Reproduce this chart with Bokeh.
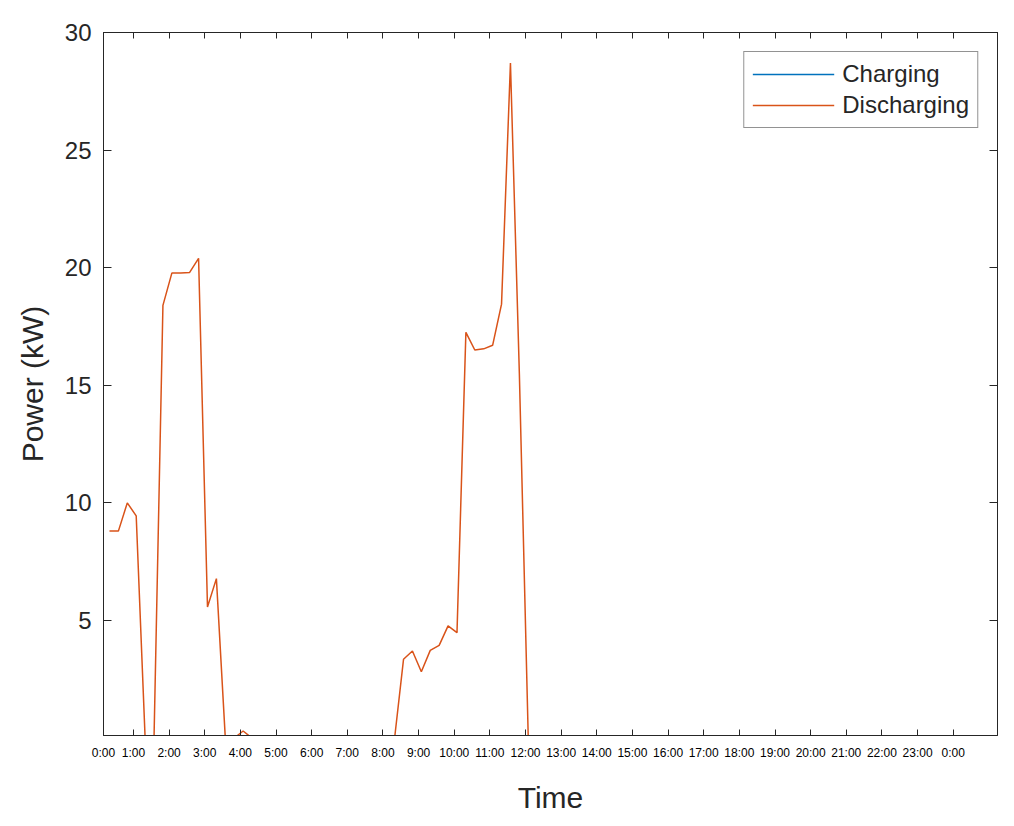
from bokeh.plotting import figure
from bokeh.models import (Range1d, LinearAxis, FixedTicker, Legend, LegendItem,
                          CustomJSTickFormatter, ColumnDataSource)
from bokeh.embed import file_html
from bokeh.resources import INLINE

# ---------------- data (15-minute samples, index 1..96) ----------------
sample_index = list(range(1, 97))

discharging = [8.8, 8.8, 10.0, 9.45, 0.0, 0.0, 18.4, 19.77, 19.77, 19.8,
               20.4, 5.57, 6.78, 0.0, 0.0, 0.3, 0.0, 0.0, 0.0, 0.0,
               0.0, 0.0, 0.0, 0.0, 0.0, 0.0, 0.0, 0.0, 0.0, 0.0,
               0.0, 0.0, 0.0, 3.35, 3.7, 2.82, 3.73, 3.94, 4.77, 4.48,
               17.25, 16.5, 16.55, 16.7, 18.45, 28.7, 15.5, 0.0] + [0.0] * 48

charging = [0.0] * 96

hour_labels = ["0:00", "1:00", "2:00", "3:00", "4:00", "5:00", "6:00", "7:00",
               "8:00", "9:00", "10:00", "11:00", "12:00", "13:00", "14:00",
               "15:00", "16:00", "17:00", "18:00", "19:00", "20:00", "21:00",
               "22:00", "23:00", "0:00"]

y_ticks = [5, 10, 15, 20, 25, 30]

# ---------------- geometry / styles ----------------
X_START, X_END = 0.33, 100.66
TICK_OFFSET = -0.31          # hour h sits at index 4h + offset
x_tick_pos = [X_START + 0.001] + [4 * h + TICK_OFFSET for h in range(1, 25)]

AX = "#262626"
FONT = "Liberation Sans"
BLUE = "#0072BD"
ORANGE = "#D95319"

p = figure(width=1008, height=818, output_backend="svg", toolbar_location=None,
           x_range=Range1d(X_START, X_END), y_range=Range1d(0.11, 30),
           min_border_left=103, min_border_right=11, min_border_top=32,
           min_border_bottom=83, x_axis_label="Time", y_axis_label="Power (kW)")
p.grid.visible = False
p.outline_line_color = AX
p.outline_line_width = 1
p.background_fill_color = "white"
p.border_fill_color = "white"

src = ColumnDataSource(dict(x=sample_index, c=charging, d=discharging))
r1 = p.line("x", "c", source=src, line_color=BLUE, line_width=1.5)
r2 = p.line("x", "d", source=src, line_color=ORANGE, line_width=1.5)

fmt_code = """
let best = 0;
for (let i = 0; i < pos.length; i++) {
  if (Math.abs(pos[i] - tick) < Math.abs(pos[best] - tick)) best = i;
}
return labels[best];
"""
xfmt = CustomJSTickFormatter(args=dict(pos=x_tick_pos, labels=hour_labels), code=fmt_code)

xa = p.xaxis[0]
xa.ticker = FixedTicker(ticks=x_tick_pos)
xa.formatter = xfmt
xa.major_tick_in = 6
xa.major_tick_out = 0
xa.minor_tick_line_color = None
xa.axis_line_color = AX
xa.major_tick_line_color = AX
xa.major_label_text_font = FONT
xa.major_label_text_font_size = "12px"
xa.major_label_text_color = "#000000"
xa.major_label_standoff = 10
xa.axis_label_text_font = FONT
xa.axis_label_text_font_size = "30px"
xa.axis_label_text_font_style = "normal"
xa.axis_label_text_color = AX
xa.axis_label_standoff = 18

ya = p.yaxis[0]
ya.ticker = FixedTicker(ticks=y_ticks)
ya.major_tick_in = 8
ya.major_tick_out = 0
ya.minor_tick_line_color = None
ya.axis_line_color = AX
ya.major_tick_line_color = AX
ya.major_label_text_font = FONT
ya.major_label_text_font_size = "24px"
ya.major_label_text_color = AX
ya.major_label_standoff = 12
ya.axis_label_text_font = FONT
ya.axis_label_text_font_size = "30px"
ya.axis_label_text_font_style = "normal"
ya.axis_label_text_color = AX
ya.axis_label_standoff = 13

blank = CustomJSTickFormatter(code="return '';")
top = LinearAxis(ticker=FixedTicker(ticks=x_tick_pos), formatter=blank,
                 major_tick_in=6, major_tick_out=0, minor_tick_line_color=None,
                 axis_line_color=AX, major_tick_line_color=AX, major_label_standoff=0)
right = LinearAxis(ticker=FixedTicker(ticks=y_ticks), formatter=blank,
                   major_tick_in=8, major_tick_out=0, minor_tick_line_color=None,
                   axis_line_color=AX, major_tick_line_color=AX, major_label_standoff=0)
p.add_layout(top, "above")
p.add_layout(right, "right")

legend = Legend(items=[LegendItem(label="Charging", renderers=[r1]),
                       LegendItem(label="Discharging", renderers=[r2])],
                location="top_right")
legend.border_line_color = AX
legend.border_line_width = 1
legend.background_fill_color = "white"
legend.background_fill_alpha = 1
legend.label_text_font = FONT
legend.label_text_font_size = "24px"
legend.label_text_color = AX
legend.glyph_width = 82
legend.glyph_height = 24
legend.label_height = 24
legend.spacing = 3
legend.padding = 8
legend.margin = 19
legend.label_standoff = 8
p.add_layout(legend)

open("out.html", "w").write(file_html(p, INLINE))
